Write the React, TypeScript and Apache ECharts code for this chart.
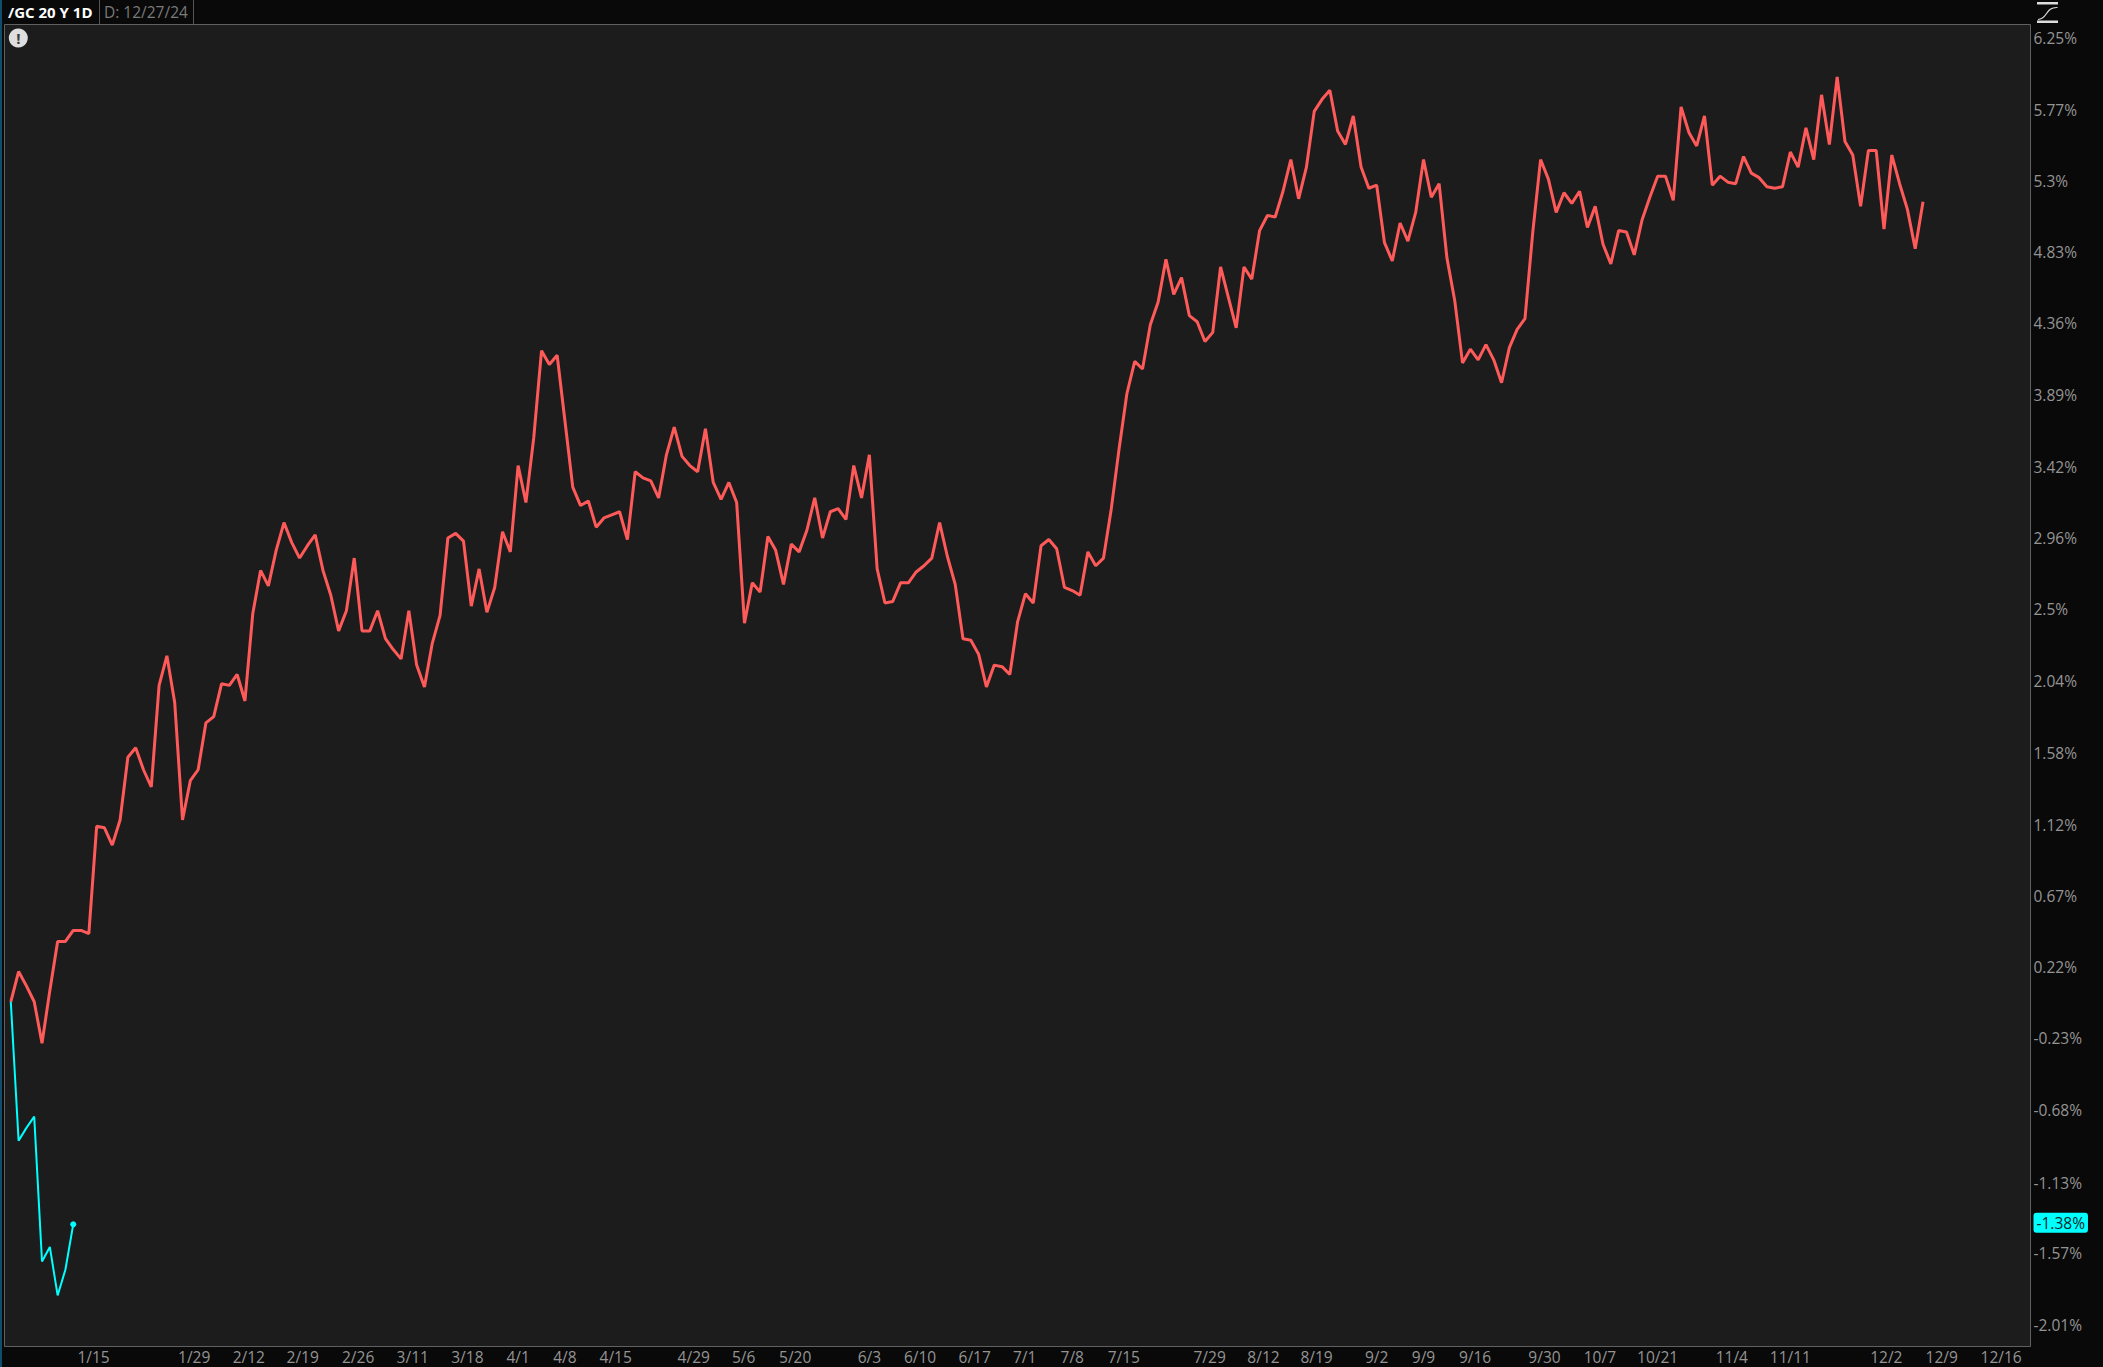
import React, { useEffect, useRef } from "react";
import * as echarts from "echarts";

const headerSymbol = "/GC 20 Y 1D";
const headerDate = "D: 12/27/24";

const redValues = [
  0.01, 0.20, 0.11, 0.01, -0.25, 0.08, 0.39, 0.39, 0.46, 0.46,
  0.44, 1.12, 1.11, 1.00, 1.16, 1.56, 1.62, 1.48, 1.37, 2.02,
  2.21, 1.91, 1.16, 1.41, 1.48, 1.78, 1.82, 2.03, 2.02, 2.09,
  1.92, 2.48, 2.76, 2.66, 2.89, 3.07, 2.94, 2.84, 2.92, 2.99,
  2.76, 2.60, 2.37, 2.50, 2.84, 2.37, 2.37, 2.50, 2.32, 2.25,
  2.19, 2.50, 2.15, 2.01, 2.29, 2.47, 2.97, 3.00, 2.95, 2.53,
  2.77, 2.49, 2.65, 3.01, 2.88, 3.44, 3.20, 3.62, 4.19, 4.10,
  4.16, 3.73, 3.30, 3.18, 3.21, 3.04, 3.10, 3.12, 3.14, 2.96,
  3.40, 3.36, 3.34, 3.23, 3.51, 3.69, 3.50, 3.44, 3.40, 3.68,
  3.33, 3.22, 3.33, 3.20, 2.42, 2.68, 2.62, 2.98, 2.89, 2.67,
  2.93, 2.88, 3.02, 3.23, 2.97, 3.14, 3.16, 3.09, 3.44, 3.23,
  3.51, 2.77, 2.55, 2.56, 2.68, 2.68, 2.75, 2.79, 2.84, 3.07,
  2.85, 2.67, 2.32, 2.31, 2.22, 2.01, 2.15, 2.14, 2.09, 2.43,
  2.61, 2.55, 2.92, 2.96, 2.90, 2.65, 2.63, 2.60, 2.88, 2.79,
  2.84, 3.16, 3.55, 3.91, 4.12, 4.07, 4.36, 4.51, 4.79, 4.56,
  4.67, 4.42, 4.38, 4.25, 4.31, 4.74, 4.54, 4.34, 4.74, 4.66,
  4.98, 5.08, 5.07, 5.24, 5.45, 5.19, 5.40, 5.77, 5.85, 5.91,
  5.64, 5.55, 5.74, 5.40, 5.26, 5.28, 4.90, 4.78, 5.03, 4.91,
  5.10, 5.45, 5.20, 5.29, 4.80, 4.52, 4.11, 4.20, 4.13, 4.23,
  4.13, 3.98, 4.21, 4.33, 4.40, 4.97, 5.45, 5.32, 5.10, 5.23,
  5.16, 5.24, 5.00, 5.14, 4.89, 4.76, 4.98, 4.97, 4.82, 5.05,
  5.20, 5.34, 5.34, 5.18, 5.80, 5.63, 5.54, 5.74, 5.28, 5.34,
  5.30, 5.29, 5.47, 5.36, 5.33, 5.27, 5.26, 5.27, 5.50, 5.40,
  5.66, 5.45, 5.88, 5.55, 6.00, 5.57, 5.48, 5.14, 5.51, 5.51,
  4.99, 5.48, 5.29, 5.12, 4.86, 5.17,
];

const cyanValues = [0.01, -0.86, -0.78, -0.71, -1.61, -1.52, -1.82, -1.66, -1.38];

const yTickLabels = [
  6.25, 5.77, 5.3, 4.83, 4.36, 3.89, 3.42, 2.96, 2.5, 2.04, 1.58, 1.12, 0.67, 0.22, -0.23, -0.68, -1.13, -1.57, -2.01,
];
const lastValue = -1.38;

const xTickLabels = [
  "1/15", "1/29", "2/12", "2/19", "2/26", "3/11", "3/18", "4/1", "4/8", "4/15", "4/29",
  "5/6", "5/20", "6/3", "6/10", "6/17", "7/1", "7/8", "7/15", "7/29", "8/12", "8/19",
  "9/2", "9/9", "9/16", "9/30", "10/7", "10/21", "11/4", "11/11", "12/2", "12/9", "12/16",
];
const xTickSessions = [
  10.6, 23.5, 30.5, 37.4, 44.5, 51.5, 58.5, 65.0, 71.0, 77.5, 87.5,
  93.9, 100.5, 110.0, 116.5, 123.5, 129.9, 136.0, 142.6, 153.6, 160.5, 167.3,
  175.0, 181.0, 187.6, 196.5, 203.6, 211.0, 220.5, 228.0, 240.3, 247.4, 255.0,
];

// The price axis is logarithmic in the underlying, so percent labels are not evenly spaced.
const toAxis = (pct: number) => Math.log(1 + pct / 100);
const axisKey = (v: number) => v.toFixed(6);

const FONT = '"Open Sans", sans-serif';
const LABEL = "#949494";
const FONT_SIZE = 15.5;

export default function App() {
  const ref = useRef<HTMLDivElement>(null);

  useEffect(() => {
    document.body.style.margin = "0";
    document.body.style.background = "#090909";
    const chart = echarts.init(ref.current!, null, { renderer: "svg" });

    const yLabelByValue = new Map<string, number>();
    yTickLabels.forEach((p) => yLabelByValue.set(axisKey(toAxis(p)), p));
    const xLabelBySession = new Map<number, string>();
    xTickSessions.forEach((s, i) => xLabelBySession.set(s, xTickLabels[i]));

    const lastIdx = cyanValues.length - 1;

    chart.setOption({
      animation: false,
      backgroundColor: "#090909",
      tooltip: { show: false },
      grid: {
        left: 4.5,
        right: 72.5,
        top: 24.5,
        bottom: 20.5,
        show: true,
        backgroundColor: "#1c1c1c",
        borderColor: "#606060",
        borderWidth: 1,
        containLabel: false,
      },
      xAxis: {
        type: "value",
        min: -0.807,
        max: 258.77,
        axisLine: { show: false },
        axisTick: { show: false },
        splitLine: { show: false },
        axisLabel: {
          customValues: xTickSessions,
          formatter: (v: number) => xLabelBySession.get(v) ?? "",
          color: LABEL,
          fontFamily: FONT,
          fontSize: FONT_SIZE,
          margin: 2.5,
          hideOverlap: false,
        },
      },
      yAxis: {
        type: "value",
        position: "right",
        min: -0.02158,
        max: 0.06156,
        axisLine: { show: false },
        axisTick: { show: false },
        splitLine: { show: false },
        axisLabel: {
          customValues: [...yTickLabels, lastValue].map(toAxis),
          formatter: (v: number) => {
            if (axisKey(v) === axisKey(toAxis(lastValue))) return `{badge|${lastValue}%}`;
            const p = yLabelByValue.get(axisKey(v));
            return p === undefined ? "" : `${p}%`;
          },
          color: LABEL,
          fontFamily: FONT,
          fontSize: FONT_SIZE,
          margin: 3,
          padding: [0, 0, 3, 0],
          hideOverlap: false,
          rich: {
            badge: {
              color: "#06282a",
              backgroundColor: "#00ffff",
              borderRadius: 3,
              padding: [2, 3, 2, 3],
              fontFamily: FONT,
              fontSize: FONT_SIZE,
            },
          },
        },
      },
      series: [
        {
          name: "/GC",
          type: "line",
          data: redValues.map((v, i) => [i, toAxis(v)]),
          symbol: "none",
          smooth: false,
          lineStyle: { color: "#ff5a5a", width: 3 },
        },
        {
          name: "20 Y",
          type: "line",
          data: cyanValues.map((v, i) => [i, toAxis(v)]),
          symbol: (_v: unknown, p: { dataIndex: number }) => (p.dataIndex === lastIdx ? "circle" : "none"),
          symbolSize: 6,
          showSymbol: true,
          smooth: false,
          itemStyle: { color: "#00ffff" },
          lineStyle: { color: "#00ffff", width: 2 },
        },
      ],
      graphic: [
        { type: "rect", shape: { x: 0, y: 0, width: 2, height: 1367 }, style: { fill: "#0f4c6e" }, silent: true },
        { type: "line", shape: { x1: 99.5, y1: 0, x2: 99.5, y2: 24 }, style: { stroke: "#555555", lineWidth: 1 } },
        { type: "line", shape: { x1: 193.5, y1: 0, x2: 193.5, y2: 24 }, style: { stroke: "#555555", lineWidth: 1 } },
        {
          type: "text",
          x: 8,
          y: 12,
          style: {
            text: headerSymbol,
            fill: "#ffffff",
            font: `bold 15px ${FONT}`,
            textVerticalAlign: "middle",
          },
        },
        {
          type: "text",
          x: 104,
          y: 12,
          style: {
            text: headerDate,
            fill: "#7a7a7a",
            font: `15.5px ${FONT}`,
            textVerticalAlign: "middle",
          },
        },
        { type: "circle", shape: { cx: 18.3, cy: 38, r: 9.5 }, style: { fill: "#dedede" } },
        {
          type: "text",
          x: 18.3,
          y: 38,
          style: {
            text: "!",
            fill: "#3a3a3a",
            font: `bold 15px ${FONT}`,
            textAlign: "center",
            textVerticalAlign: "middle",
          },
        },
        { type: "rect", shape: { x: 2037, y: 2, width: 21, height: 2.5 }, style: { fill: "#dddddd" } },
        { type: "rect", shape: { x: 2037, y: 20.5, width: 21, height: 2.5 }, style: { fill: "#dddddd" } },
        {
          type: "bezierCurve",
          shape: { x1: 2038, y1: 19.5, cpx1: 2048, cpy1: 19, cpx2: 2045, cpy2: 7, x2: 2057.5, y2: 7.5 },
          style: { stroke: "#dddddd", lineWidth: 1.2, fill: "none" },
        },
      ],
    });

    return () => chart.dispose();
  }, []);

  return <div ref={ref} style={{ width: 2103, height: 1367 }} />;
}
